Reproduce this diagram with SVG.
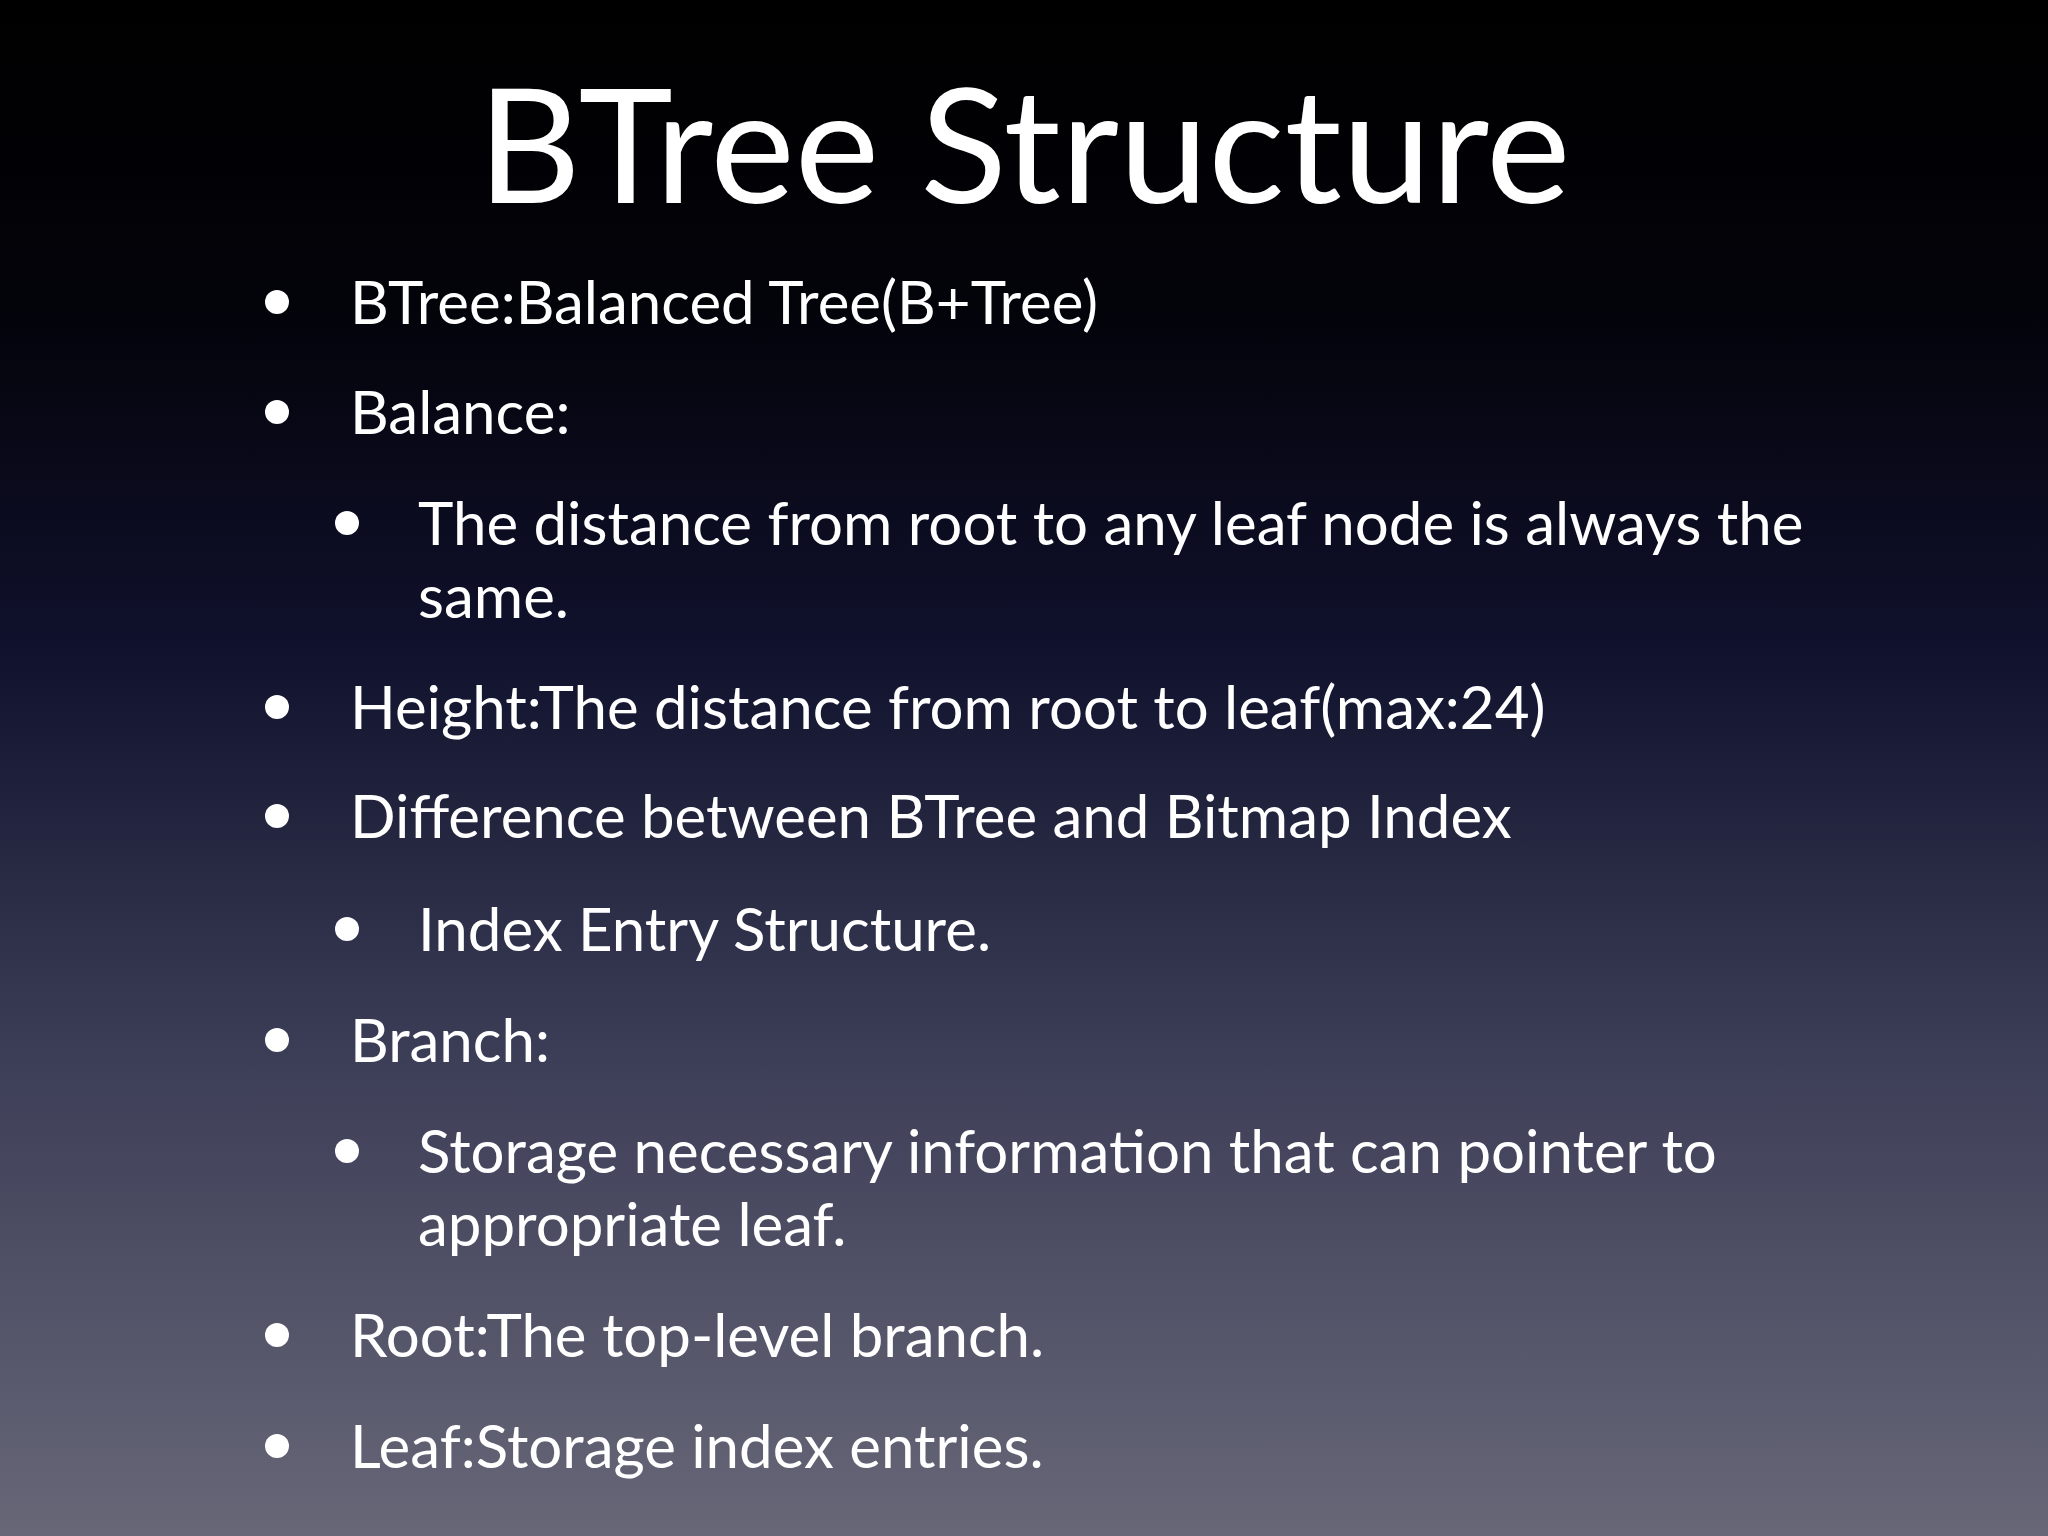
<svg xmlns="http://www.w3.org/2000/svg" width="2048" height="1536" viewBox="0 0 2048 1536">
<defs>
<linearGradient id="bg" x1="0" y1="0" x2="0" y2="1">
<stop offset="0" stop-color="#000000"/>
<stop offset="0.2" stop-color="#03030a"/>
<stop offset="0.42" stop-color="#10112c"/>
<stop offset="0.7" stop-color="#3e3f58"/>
<stop offset="1" stop-color="#676778"/>
</linearGradient>
<style>
.t{font-family:Lato,"Open Sans",sans-serif;fill:#fff;font-size:60px}
.h{font-family:Lato,"Open Sans",sans-serif;fill:#fff;font-size:160px}
circle{fill:#fff}
</style>
</defs>
<rect width="2048" height="1536" fill="url(#bg)"/>
<text class="h" x="1024" y="203" text-anchor="middle">BTree Structure</text>
<g>
<circle cx="277" cy="302" r="12"/><text class="t" x="350" y="324">BTree:Balanced Tree(B+Tree)</text>
<circle cx="277" cy="412" r="12"/><text class="t" x="350" y="434">Balance:</text>
<circle cx="347" cy="523" r="12"/><text class="t" x="418" y="545">The distance from root to any leaf node is always the</text>
<text class="t" x="418" y="618">same.</text>
<circle cx="277" cy="707" r="12"/><text class="t" x="350" y="729">Height:The distance from root to leaf(max:24)</text>
<circle cx="277" cy="816" r="12"/><text class="t" x="350" y="838">Difference between BTree and Bitmap Index</text>
<circle cx="347" cy="929" r="12"/><text class="t" x="418" y="951">Index Entry Structure.</text>
<circle cx="277" cy="1040" r="12"/><text class="t" x="350" y="1062">Branch:</text>
<circle cx="347" cy="1151" r="12"/><text class="t" x="418" y="1173">Storage necessary information that can pointer to</text>
<text class="t" x="418" y="1246">appropriate leaf.</text>
<circle cx="277" cy="1335" r="12"/><text class="t" x="350" y="1357">Root:The top-level branch.</text>
<circle cx="277" cy="1446" r="12"/><text class="t" x="350" y="1468">Leaf:Storage index entries.</text>
</g>
</svg>
